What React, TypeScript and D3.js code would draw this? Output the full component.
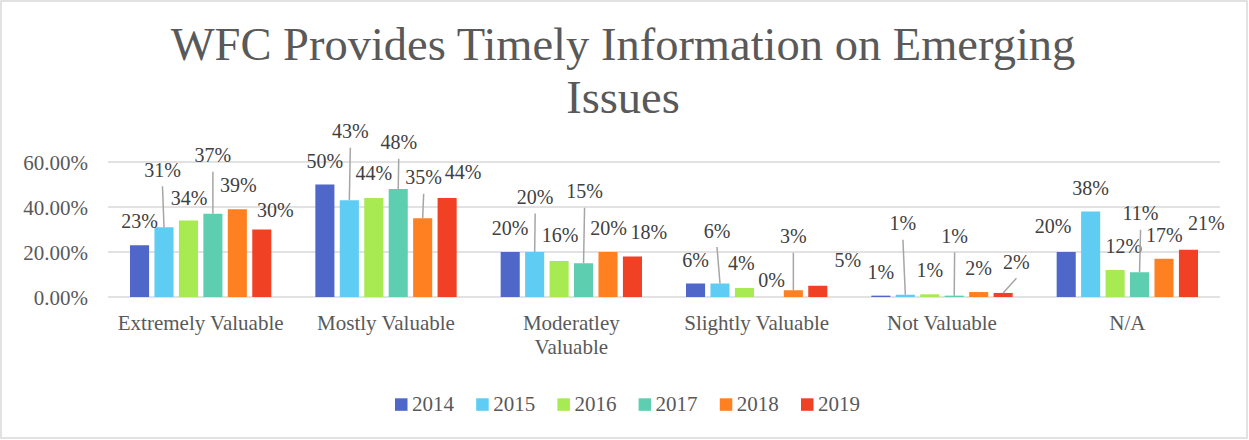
import React from 'react';
import * as d3 from 'd3';

// chart data
const categories = ['Extremely Valuable', 'Mostly Valuable', 'Moderatley\nValuable', 'Slightly Valuable', 'Not Valuable', 'N/A'];
const years = ['2014', '2015', '2016', '2017', '2018', '2019'];
const v2014 = [0.23, 0.50, 0.20, 0.06, 0.006, 0.20];
const v2015 = [0.31, 0.43, 0.20, 0.06, 0.010, 0.38];
const v2016 = [0.34, 0.44, 0.16, 0.04, 0.012, 0.12];
const v2017 = [0.37, 0.48, 0.15, 0.00, 0.006, 0.11];
const v2018 = [0.39, 0.35, 0.20, 0.03, 0.022, 0.17];
const v2019 = [0.30, 0.44, 0.18, 0.05, 0.018, 0.21];
const yTicks = [0, 0.2, 0.4, 0.6];
const colors = ['#4e67c8', '#5eccf3', '#a7ea52', '#5dceaf', '#ff8021', '#f14124'];

// manual data label nudges per year (dx, dy, leader line) as placed in the original
const labelNudge = [
  [[0, 0, 0], [0, 0, 0], [0, 0, 0], [0, 0, 0], [0, 0, 0], [-13, -2, 0]],
  [[-1.5, -33.5, 1], [1, -45, 1], [0.5, -31, 1], [-3, -29, 1], [-2.4, -47.5, 1], [0, 0.5, 0]],
  [[0.7, 1.5, 0], [0, -1, 0], [1, -2, 0], [-3, -1, 0], [0, 0, 0], [8.8, 0.3, 0]],
  [[0, -34.5, 1], [0.5, -22.7, 1], [1, -48, 1], [2.7, 7.3, 0], [0.4, -36, 1], [1, -35, 1]],
  [[1, 0, 0], [1, -17, 1], [0.7, 0, 0], [0, -30, 1], [0, -0.5, 0], [0.4, 0, 0]],
  [[13.6, 4.8, 0], [16, -1.7, 0], [16.5, -1, 0], [30, -1.5, 0], [13.3, -7.2, 1], [18, -2.7, 0]],
];

const series = [v2014, v2015, v2016, v2017, v2018, v2019];

const W = 1249;
const H = 440;

const x0 = d3.scaleBand().domain(categories).range([108, 1220]).padding(0);
const x1 = d3.scaleBand().domain(years).range([0, x0.bandwidth()]).paddingInner(0.22).paddingOuter(0.9);
const y = d3.scaleLinear().domain([0, 0.6]).range([297, 162]);
const fmtTick = d3.format('.2%');
const fmt = d3.format('.0%');

const App = () => (
  <svg width={W} height={H} style={{ position: 'absolute', left: 0, top: 0, background: '#fff', fontFamily: "'Liberation Serif'" }}>
    <rect x={1} y={1} width={W - 3} height={H - 3} fill="#fff" stroke="#d9d9d9" strokeWidth={1.5} />

    {/* title */}
    <text textAnchor="middle" fontSize={46.5} fill="#595959">
      <tspan x={623} y={60}>WFC Provides Timely Information on Emerging</tspan>
      <tspan x={623} y={113}>Issues</tspan>
    </text>

    {/* gridlines and y labels */}
    {yTicks.map(t => (
      <g key={t}>
        <line x1={108} x2={1220} y1={y(t)} y2={y(t)} stroke="#d9d9d9" strokeWidth={1.5} />
        <text x={88} y={y(t)} dy="0.36em" textAnchor="end" fontSize={21} fill="#595959">{fmtTick(t)}</text>
      </g>
    ))}

    {/* bars */}
    {years.map((yr, si) => (
      <g key={yr} fill={colors[si]}>
        {categories.map((c, ci) => {
          const v = series[si][ci];
          return <rect key={c} x={x0(c) + x1(yr)} y={y(v)} width={x1.bandwidth()} height={y(0) - y(v)} />;
        })}
      </g>
    ))}

    {/* data labels with leader lines */}
    {years.map((yr, si) => categories.map((c, ci) => {
      const v = series[si][ci];
      const [dx, dy, leader] = labelNudge[si][ci];
      const bx = x0(c) + x1(yr) + x1.bandwidth() / 2;
      const top = y(v);
      const lx = bx + dx;
      const ly = top - 17 + dy;
      return (
        <g key={yr + c}>
          {leader ? <line x1={lx} y1={ly + 9.5} x2={bx} y2={top} stroke="#a6a6a6" strokeWidth={1.5} /> : null}
          <text x={lx} y={ly} textAnchor="middle" fontSize={20} fill="#404040">{fmt(v)}</text>
        </g>
      );
    }))}

    {/* category labels */}
    {categories.map(c => (
      <text key={c} textAnchor="middle" fontSize={21} fill="#595959">
        {c.split('\n').map((line, i) => (
          <tspan key={i} x={x0(c) + x0.bandwidth() / 2} y={330 + i * 24}>{line}</tspan>
        ))}
      </text>
    ))}

    {/* legend */}
    {years.map((yr, i) => (
      <g key={yr} transform={`translate(${395 + i * 81.2}, 398.3)`}>
        <rect width={12.5} height={12.5} fill={colors[i]} />
        <text x={17} y={12.4} fontSize={21} fill="#595959">{yr}</text>
      </g>
    ))}
  </svg>
);

export default App;
